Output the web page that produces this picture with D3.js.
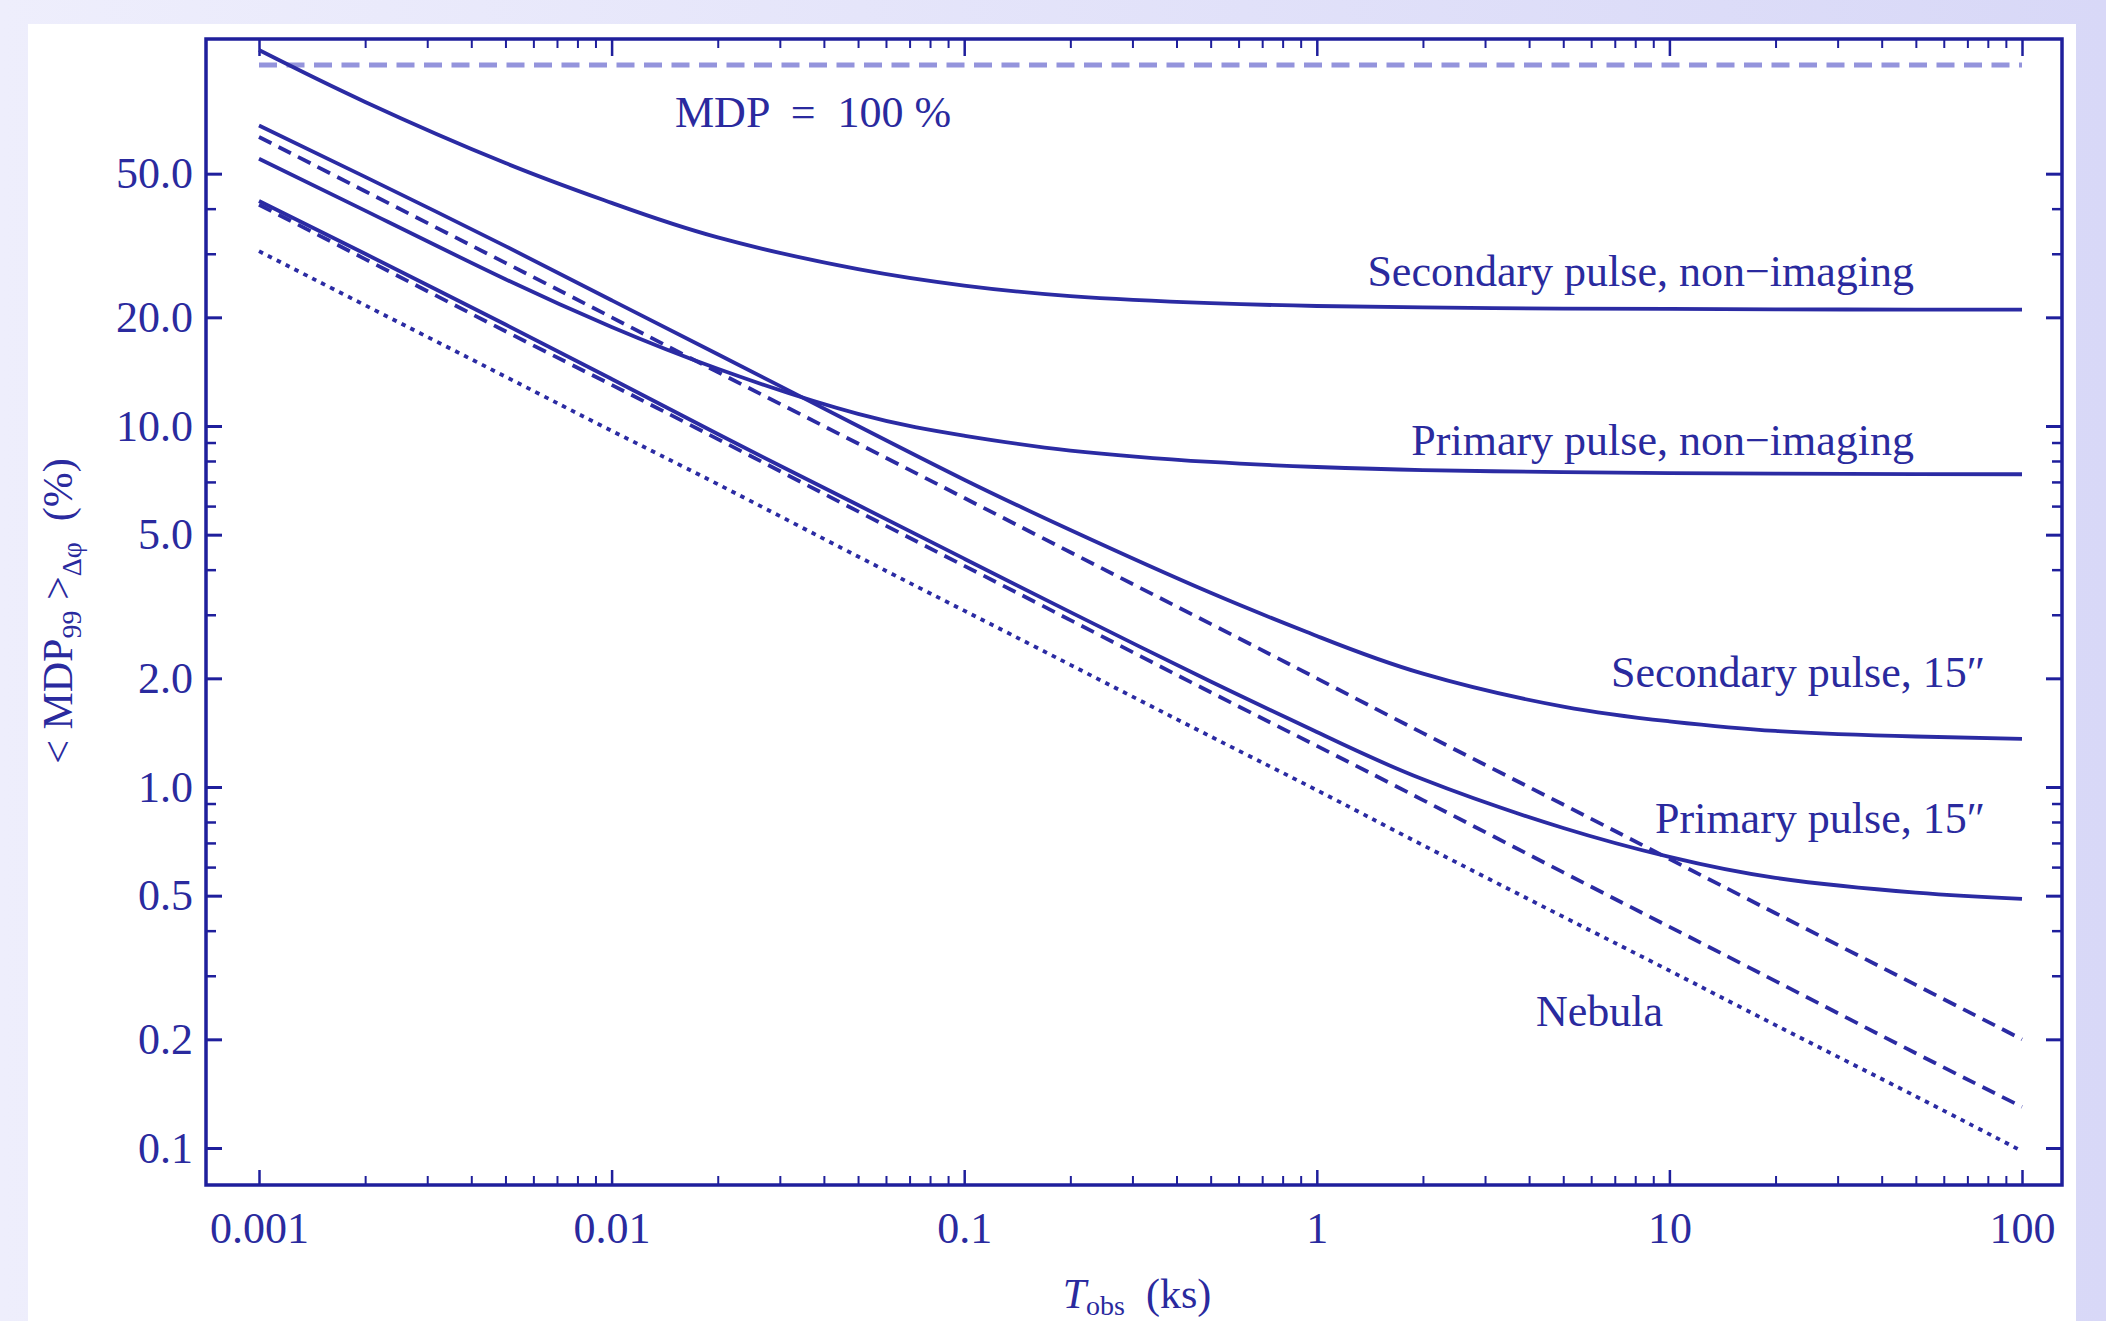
<!DOCTYPE html>
<html>
<head>
<meta charset="utf-8">
<script src="https://cdnjs.cloudflare.com/ajax/libs/d3/7.8.5/d3.min.js"></script>
<style>
  body { margin: 0; }
  svg text { font-family: "Liberation Serif", "DejaVu Serif", serif; fill: #2a2a9e; }
</style>
</head>
<body>
<svg id="chart"></svg>
<script>
// observation time (ks)
var tObs = [0.001, 0.002, 0.005, 0.01, 0.02, 0.05, 0.1, 0.2, 0.5, 1, 2, 5, 10, 20, 50, 100];

// <MDP99> (%)
var secondaryNonImaging = [110, 79, 53.5, 41.5, 33.3, 27.2, 24.5, 22.9, 21.9, 21.5, 21.3, 21.15, 21.1, 21.05, 21.0, 21.0];
var primaryNonImaging   = [55, 39.5, 25.5, 18.8, 14.4, 10.8, 9.4, 8.55, 7.95, 7.7, 7.55, 7.45, 7.4, 7.38, 7.36, 7.35];
var secondary15         = [68, 49, 31.5, 22.3, 15.8, 10.0, 7.1, 5.15, 3.45, 2.62, 2.06, 1.67, 1.52, 1.43, 1.38, 1.36];
var primary15           = [42, 30, 19.1, 13.5, 9.5, 6.04, 4.29, 3.05, 1.96, 1.42, 1.05, 0.77, 0.64, 0.56, 0.51, 0.49];
var secondaryStat       = [63.2, 44.7, 28.3, 20, 14.1, 8.94, 6.32, 4.47, 2.83, 2.0, 1.41, 0.894, 0.632, 0.447, 0.283, 0.2];
var primaryStat         = [41, 29, 18.3, 13, 9.2, 5.8, 4.1, 2.9, 1.83, 1.3, 0.92, 0.58, 0.41, 0.29, 0.183, 0.13];
var nebula              = [30.5, 21.6, 13.7, 9.7, 6.9, 4.35, 3.08, 2.18, 1.38, 0.98, 0.69, 0.437, 0.31, 0.219, 0.139, 0.098];
var mdpLimit = 100;

var xTicks = [0.001, 0.01, 0.1, 1, 10, 100];
var xTickLabels = ["0.001", "0.01", "0.1", "1", "10", "100"];
var yTicks = [0.1, 0.2, 0.5, 1, 2, 5, 10, 20, 50];
var yMinorTicks = [0.3, 0.4, 0.6, 0.7, 0.8, 0.9, 3, 4, 6, 7, 8, 9, 30, 40];

var W = 2106, H = 1321;
var box = {left: 206, right: 2062, top: 39, bottom: 1185};
var axisColor = "#1f1f9c";
var lineColor = "#2b2ba3";

var svg = d3.select("#chart").attr("width", W).attr("height", H);

var grad = svg.append("defs").append("linearGradient")
  .attr("id", "bg").attr("x1", 0).attr("x2", 1).attr("y1", 0).attr("y2", 0);
grad.append("stop").attr("offset", 0).attr("stop-color", "#eeeefc");
grad.append("stop").attr("offset", 1).attr("stop-color", "#d8d8f7");
svg.append("rect").attr("width", W).attr("height", H).attr("fill", "url(#bg)");
svg.append("rect").attr("x", 28).attr("y", 24).attr("width", 2048).attr("height", H - 24).attr("fill", "#fff");

var x = d3.scaleLog().domain([0.001, 100]).range([259, 2022]);
var y = d3.scaleLog().domain([0.1, 100]).range([1148, 65]);

// minor x ticks 2..9 per decade
var xMinor = [];
xTicks.slice(0, -1).forEach(function (d) {
  for (var k = 2; k <= 9; k++) xMinor.push(d * k);
});

function fixAxis(g, width) {
  g.select(".domain").remove();
  g.attr("color", axisColor).attr("font-size", 44);
  g.selectAll("line").attr("stroke-width", width);
}

// bottom
svg.append("g").attr("transform", "translate(0," + box.bottom + ")")
  .call(d3.axisBottom(x).tickValues(xTicks).tickSize(-15).tickPadding(27)
    .tickFormat(function (d, i) { return xTickLabels[i]; }))
  .call(fixAxis, 2.5);
svg.append("g").attr("transform", "translate(0," + box.bottom + ")")
  .call(d3.axisBottom(x).tickValues(xMinor).tickSize(-9).tickFormat(""))
  .call(fixAxis, 2);
// top
svg.append("g").attr("transform", "translate(0," + box.top + ")")
  .call(d3.axisTop(x).tickValues(xTicks).tickSize(-17).tickFormat(""))
  .call(fixAxis, 2.5);
svg.append("g").attr("transform", "translate(0," + box.top + ")")
  .call(d3.axisTop(x).tickValues(xMinor).tickSize(-9).tickFormat(""))
  .call(fixAxis, 2);
// left
svg.append("g").attr("transform", "translate(" + box.left + ",0)")
  .call(d3.axisLeft(y).tickValues(yTicks).tickSize(-16).tickPadding(13)
    .tickFormat(d3.format(".1f")))
  .call(fixAxis, 3);
svg.append("g").attr("transform", "translate(" + box.left + ",0)")
  .call(d3.axisLeft(y).tickValues(yMinorTicks).tickSize(-10).tickFormat(""))
  .call(fixAxis, 2.5);
// right
svg.append("g").attr("transform", "translate(" + box.right + ",0)")
  .call(d3.axisRight(y).tickValues(yTicks).tickSize(-16).tickFormat(""))
  .call(fixAxis, 3);
svg.append("g").attr("transform", "translate(" + box.right + ",0)")
  .call(d3.axisRight(y).tickValues(yMinorTicks).tickSize(-10).tickFormat(""))
  .call(fixAxis, 2.5);

svg.append("rect")
  .attr("x", box.left).attr("y", box.top)
  .attr("width", box.right - box.left).attr("height", box.bottom - box.top)
  .attr("fill", "none").attr("stroke", axisColor).attr("stroke-width", 3.5);

// MDP = 100% reference
svg.append("path")
  .attr("d", d3.line()([[x(0.001), y(mdpLimit)], [x(100), y(mdpLimit)]]))
  .attr("stroke", "#9494dc").attr("stroke-width", 5)
  .attr("stroke-dasharray", "18,9.5").attr("fill", "none");

var line = d3.line()
  .x(function (d, i) { return x(tObs[i]); })
  .y(function (d) { return y(d); })
  .curve(d3.curveNatural);

var series = [
  {values: secondaryNonImaging, dash: null},
  {values: primaryNonImaging, dash: null},
  {values: secondary15, dash: null},
  {values: primary15, dash: null},
  {values: secondaryStat, dash: "14,8"},
  {values: primaryStat, dash: "14,8"},
  {values: nebula, dash: "4.5,5.5"}
];

svg.selectAll("path.curve")
  .data(series)
  .enter()
  .append("path")
  .attr("class", "curve")
  .attr("d", function (d) { return line(d.values); })
  .attr("fill", "none")
  .attr("stroke", lineColor)
  .attr("stroke-width", 3.8)
  .attr("stroke-dasharray", function (d) { return d.dash; });

// annotations
function label(txt, px, py, anchor) {
  svg.append("text").attr("x", px).attr("y", py)
    .attr("text-anchor", anchor).attr("font-size", 44)
    .style("white-space", "pre").text(txt);
}
label("MDP  =  100 %", 675, 127, "start");
label("Secondary pulse, non\u2212imaging", 1914, 286, "end");
label("Primary pulse, non\u2212imaging", 1914, 455, "end");
label("Secondary pulse, 15\u2033", 1985, 687, "end");
label("Primary pulse, 15\u2033", 1985, 833, "end");
label("Nebula", 1536, 1026, "start");

// axis titles
var xt = svg.append("text").attr("x", 1137).attr("y", 1308)
  .attr("text-anchor", "middle").attr("font-size", 42).style("white-space", "pre");
xt.append("tspan").attr("font-style", "italic").text("T");
xt.append("tspan").attr("font-size", 28).attr("dy", 7).text("obs");
xt.append("tspan").attr("dy", -7).text("  (ks)");

var yt = svg.append("text").attr("transform", "translate(72,611) rotate(-90)")
  .attr("text-anchor", "middle").attr("font-size", 42).style("white-space", "pre");
yt.append("tspan").text("< MDP");
yt.append("tspan").attr("font-size", 28).attr("dy", 9).text("99");
yt.append("tspan").attr("dy", -9).text(" >");
yt.append("tspan").attr("font-size", 28).attr("dy", 9).text("\u0394\u03c6");
yt.append("tspan").attr("dy", -9).text("  (%)");
</script>
</body>
</html>
